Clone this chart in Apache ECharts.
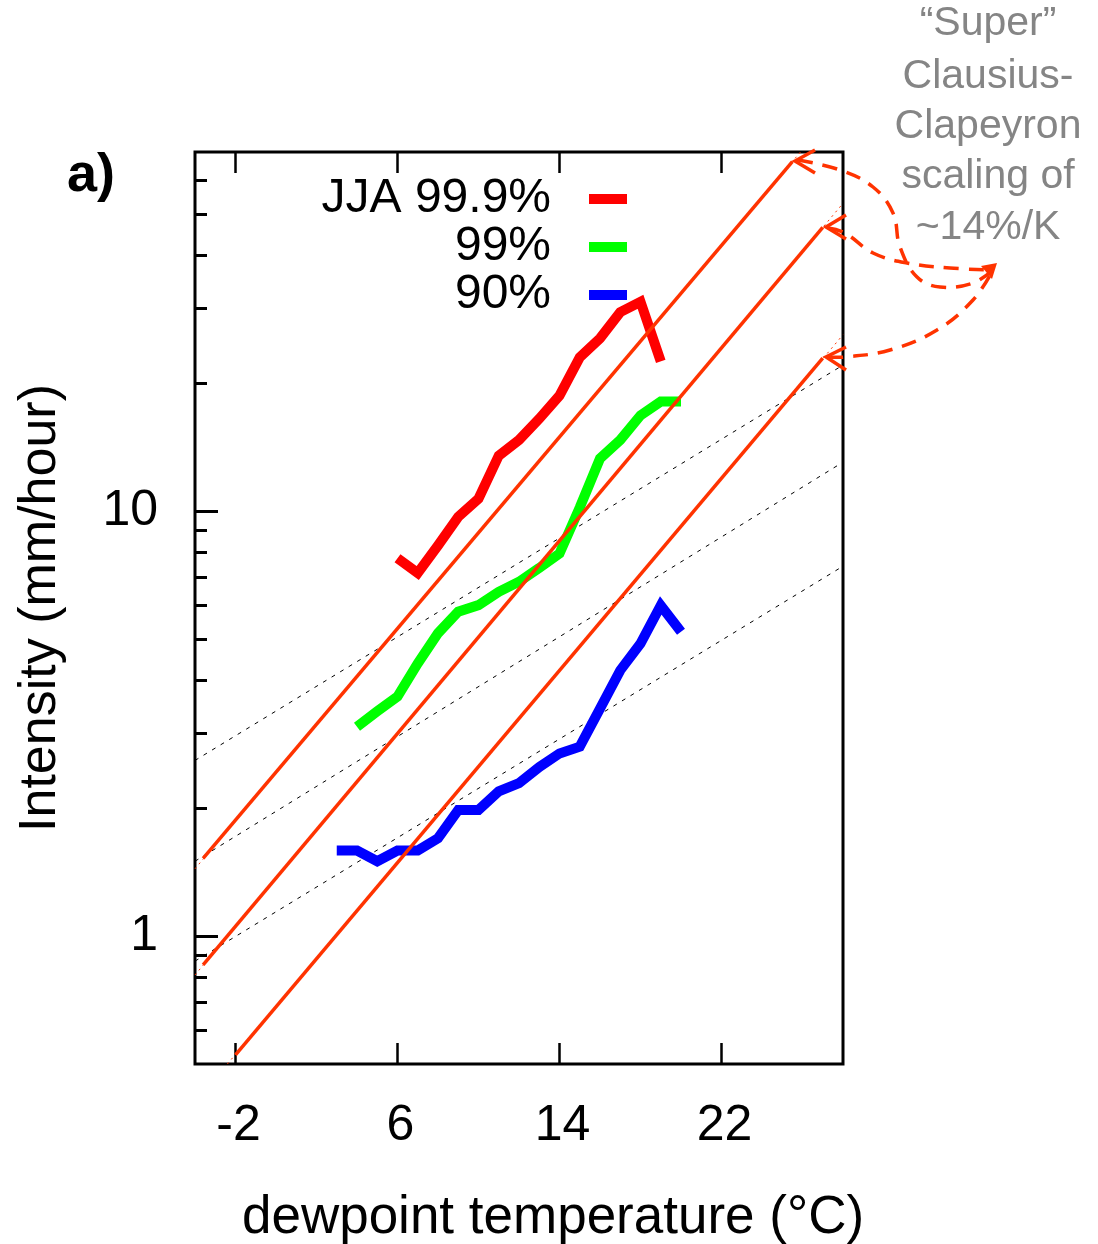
<!DOCTYPE html>
<html><head><meta charset="utf-8">
<script src="https://cdn.jsdelivr.net/npm/echarts@6/dist/echarts.min.js"></script>
<style>html,body{margin:0;padding:0;background:#fff}#c{width:1098px;height:1244px}</style>
</head><body><div id="c"></div>
<script>
const FONT = '"Liberation Sans", Arial, Helvetica, sans-serif';

// ---- data ----
const seriesNames = ['JJA 99.9%', '99%', '90%'];
const red999X = [6,7,8,9,10,11,12,13,14,15,16,17,18,19];
const red999Y = [7.75,7.15,8.3,9.7,10.7,13.5,14.7,16.5,18.7,23.0,25.5,29.4,31.1,22.5];
const green99X = [4,5,6,7,8,9,10,11,12,13,14,15,16,17,18,19,20];
const green99Y = [3.11,3.38,3.66,4.38,5.16,5.8,6.01,6.46,6.82,7.35,7.95,10.2,13.3,14.7,16.8,18.1,18.1];
const blue90X = [3,4,5,6,7,8,9,10,11,12,13,14,15,16,17,18,19,20];
const blue90Y = [1.59,1.59,1.50,1.59,1.59,1.70,1.98,1.98,2.19,2.29,2.50,2.69,2.79,3.43,4.22,4.88,6.0,5.2];

// Clausius-Clapeyron (~7%/K) reference lines: [x0,y0,x1,y1]
const cc7LineA = [-4, 2.59, 28, 22.06];
const cc7LineB = [-4, 1.50, 28, 13.04];
const cc7LineC = [-4, 0.873, 28, 7.42];
// "super" CC (~14%/K) drawn lines (solid) and their faint dotted full-length versions
const scc14Line1 = [-3.6, 1.523, 25.5, 66.4];
const scc14Line2 = [-3.6, 0.855, 27.0, 46.5];
const scc14Line3 = [-2.0, 0.525, 27.0, 22.9];
const scc14Dot1 = [-4, 1.44, 25.9, 70];
const scc14Dot2 = [-4, 0.81, 28, 53];
const scc14Dot3 = [-2.4, 0.5, 28, 26];

const xTickValues = [-2, 6, 14, 22];
const yMajorTicks = [1, 10];
const yMinorTicks = [0.6,0.7,0.8,0.9,2,3,4,5,6,7,8,9,20,30,40,50,60];
const annotationLines = ['\u201cSuper\u201d', 'Clausius-', 'Clapeyron', 'scaling of', '~14%/K'];

// ---- build ----
const pairs = (xs, ys) => xs.map((x, i) => [x, ys[i]]);
const seg = s => [[s[0], s[1]], [s[2], s[3]]];

function dataLine(name, xs, ys, color) {
  return { name, type: 'line', data: pairs(xs, ys), showSymbol: false, symbol: 'none',
    lineStyle: { color, width: 10, cap: 'butt', join: 'miter' }, itemStyle: { color },
    z: 3, animation: false };
}
function refLine(s, color, width, type, z) {
  return { type: 'line', data: seg(s), showSymbol: false, symbol: 'none', silent: true,
    lineStyle: { color, width, type }, z, animation: false };
}

const SCC = '#ff3300';
const chart = echarts.init(document.getElementById('c'), null, { renderer: 'canvas' });

const annotY = [24, 77, 127, 177, 228];
const graphics = [];
graphics.push({ type: 'text', left: 67, top: 149, style: { text: 'a)', font: 'bold 54px ' + FONT, fill: '#000' } });
annotationLines.forEach((t, i) => {
  graphics.push({ type: 'text', x: 988, y: annotY[i], style: { text: t, font: '41px ' + FONT, fill: '#858585', align: 'center', verticalAlign: 'middle' } });
});
const dash = { stroke: SCC, lineWidth: 3.5, lineDash: [15, 10], fill: null };
graphics.push({ type: 'polyline', shape: { points: [[798,160],[840,170],[873,187],[893,213],[900,247],[917,277],[940,287],[973,283],[993,270]], smooth: 0.4 }, style: dash, z: 10 });
graphics.push({ type: 'polyline', shape: { points: [[828,228],[845,233],[873,253],[907,263],[950,268],[993,270]], smooth: 0.4 }, style: dash, z: 10 });
graphics.push({ type: 'polyline', shape: { points: [[828,357],[845,357],[890,350],[937,330],[973,300],[993,270]], smooth: 0.4 }, style: dash, z: 10 });
const head = { stroke: SCC, lineWidth: 3.5, fill: null };
graphics.push({ type: 'polyline', shape: { points: [[815,150],[795,161],[815,173]] }, style: head, z: 10 });
graphics.push({ type: 'polyline', shape: { points: [[846,215],[826,227],[846,239]] }, style: head, z: 10 });
graphics.push({ type: 'polyline', shape: { points: [[846,347],[826,357],[846,370]] }, style: head, z: 10 });
graphics.push({ type: 'polygon', shape: { points: [[981,266],[997,263],[992,279]] }, style: { fill: SCC }, z: 10 });

chart.setOption({
  animation: false,
  backgroundColor: '#fff',
  textStyle: { fontFamily: FONT },
  grid: { left: 195, top: 152, width: 648, height: 912, show: true, borderColor: '#000', borderWidth: 3,
          backgroundColor: 'transparent', containLabel: false, outerBoundsMode: 'none' },
  legend: {
    data: seriesNames, orient: 'vertical', align: 'right', right: 466, top: 170,
    itemWidth: 38, itemHeight: 10, itemGap: 0, icon: 'rect', selectedMode: false,
    textStyle: { fontSize: 48, color: '#000', fontFamily: FONT, lineHeight: 47.5, padding: [0, 33, 0, 0] }
  },
  xAxis: [
    { type: 'value', min: -4, max: 28, position: 'bottom',
      name: 'dewpoint temperature (\u00b0C)', nameLocation: 'middle', nameGap: 128,
      nameTextStyle: { fontSize: 53, color: '#000', fontFamily: FONT, padding: [0, 0, 0, 68] },
      axisLine: { show: false, onZero: false }, splitLine: { show: false },
      axisTick: { inside: true, length: 21, customValues: xTickValues, lineStyle: { color: '#000', width: 2.5 } },
      axisLabel: { customValues: xTickValues, fontSize: 50, color: '#000', margin: 37, fontFamily: FONT, padding: [0, 0, 0, 6] } },
    { type: 'value', min: -4, max: 28, position: 'top',
      axisLine: { show: false, onZero: false }, splitLine: { show: false },
      axisTick: { inside: true, length: 21, customValues: xTickValues, lineStyle: { color: '#000', width: 2.5 } },
      axisLabel: { show: false } }
  ],
  yAxis: [
    { type: 'log', logBase: 10, min: 0.5, max: 70, position: 'left',
      name: 'Intensity (mm/hour)', nameLocation: 'middle', nameGap: 128,
      nameTextStyle: { fontSize: 52, color: '#000', fontFamily: FONT },
      axisLine: { show: false, onZero: false }, splitLine: { show: false },
      axisTick: { inside: true, length: 23, customValues: yMajorTicks, lineStyle: { color: '#000', width: 3 } },
      axisLabel: { customValues: yMajorTicks, fontSize: 50, color: '#000', margin: 37, fontFamily: FONT } },
    { type: 'log', logBase: 10, min: 0.5, max: 70, position: 'left', offset: 0,
      axisLine: { show: false, onZero: false }, splitLine: { show: false },
      axisTick: { inside: true, length: 12, customValues: yMinorTicks, lineStyle: { color: '#000', width: 3 } },
      axisLabel: { show: false } }
  ],
  series: [
    refLine(cc7LineA, '#000', 1, [4, 6], 1),
    refLine(cc7LineB, '#000', 1, [4, 6], 1),
    refLine(cc7LineC, '#000', 1, [4, 6], 1),
    refLine(scc14Dot1, SCC, 1, [2, 4], 1),
    refLine(scc14Dot2, SCC, 1, [2, 4], 1),
    refLine(scc14Dot3, SCC, 1, [2, 4], 1),
    dataLine(seriesNames[0], red999X, red999Y, '#ff0000'),
    dataLine(seriesNames[1], green99X, green99Y, '#00ff00'),
    dataLine(seriesNames[2], blue90X, blue90Y, '#0000ff'),
    refLine(scc14Line1, SCC, 3.5, 'solid', 5),
    refLine(scc14Line2, SCC, 3.5, 'solid', 5),
    refLine(scc14Line3, SCC, 3.5, 'solid', 5)
  ],
  graphic: graphics
});
</script></body></html>
